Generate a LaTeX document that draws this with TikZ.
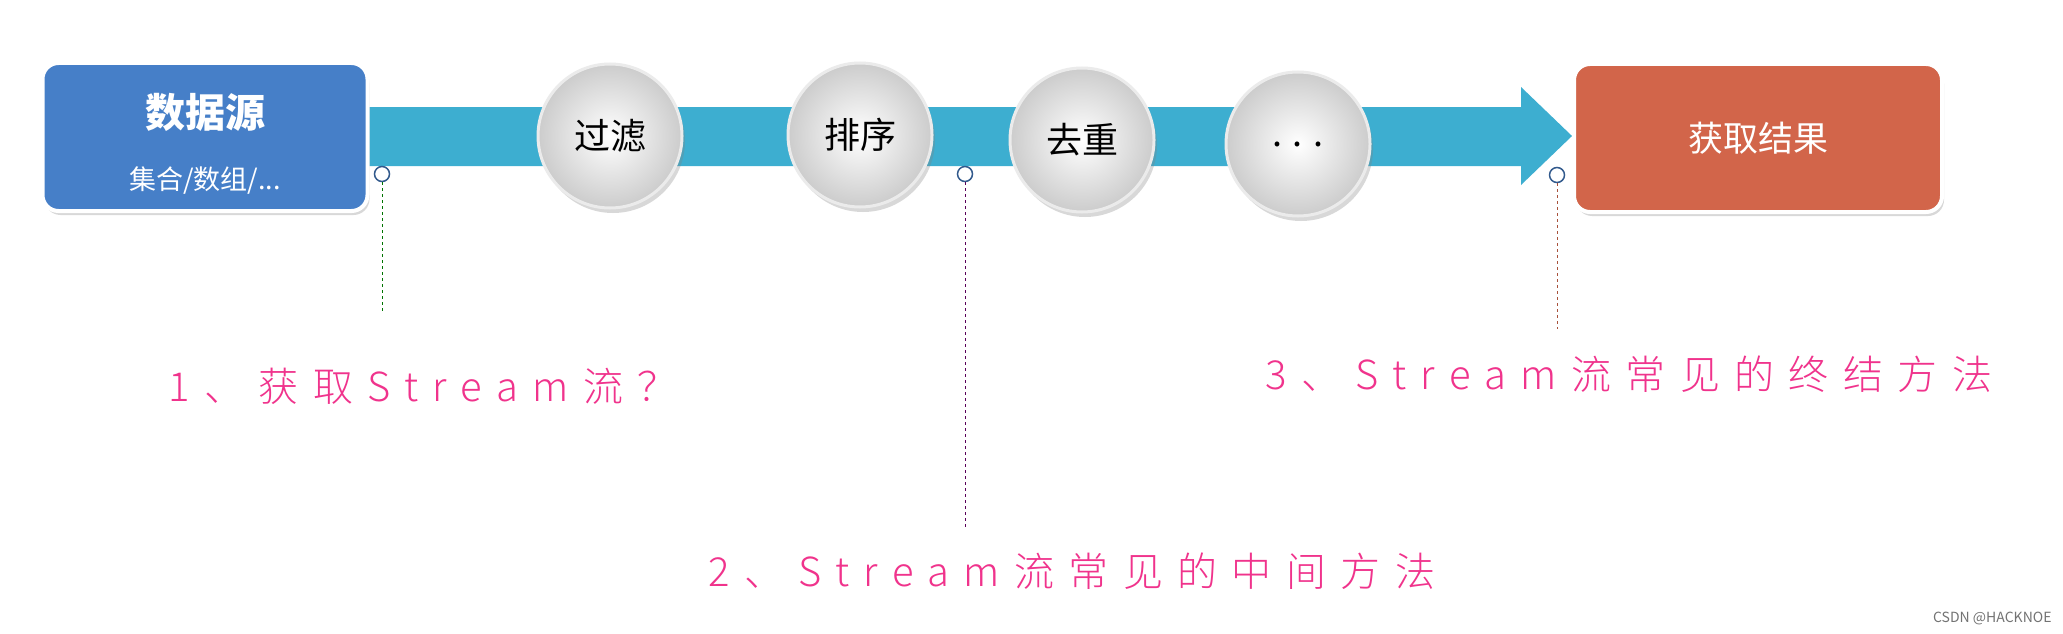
\documentclass[tikz,border=0pt]{standalone}
\usepackage{fontspec}
\setmainfont{Noto Sans CJK SC}
\newfontfamily\hand[LetterSpace=36]{Noto Sans CJK SC Light}
\usetikzlibrary{shadows}
\definecolor{bandc}{HTML}{3DAED0}
\definecolor{srcc}{HTML}{467FC8}
\definecolor{resc}{HTML}{D2654A}
\definecolor{pinkc}{HTML}{F0338C}
\begin{document}
\begin{tikzpicture}[x=1pt,y=-1pt,
  boxst/.style={draw=white,line width=4pt,rounded corners=16pt,drop shadow={shadow xshift=2pt,shadow yshift=-4pt,opacity=0.3},text=white,align=center},
  ball/.style={circle,minimum size=144pt,inner sep=0pt,draw=white!92!black,line width=3pt,inner color=white,outer color=black!20,drop shadow={shadow xshift=3pt,shadow yshift=-5pt,opacity=0.3},font=\fontsize{36}{42}\selectfont},
  dot/.style={circle,draw=srcc!70!black,fill=white,line width=1.5pt,minimum size=15pt,inner sep=0pt},
  lbl/.style={text=pinkc,font=\hand\fontsize{40}{46}\selectfont,anchor=west},
  dl/.style={dashed,line width=1pt}]
\useasboundingbox (0,0) rectangle (2063,634);
\fill[white] (0,0) rectangle (2063,634);
% band arrow
\fill[bandc] (365,107) -- (1521,107) -- (1521,87) -- (1572,136) -- (1521,185) -- (1521,166) -- (365,166) -- cycle;
\node[boxst,fill=srcc,minimum width=325pt,minimum height=148pt] (src) at (205,137) {};
\node[text=white,font=\bfseries\fontsize{40}{46}\selectfont] (srcA) at (205,112) {数据源};
\node[text=white,font=\fontsize{27}{30}\selectfont] (srcB) at (205,181) {集合/数组/...};
\node[boxst,fill=resc,minimum width=368pt,minimum height=148pt,font=\fontsize{35}{40}\selectfont] (res) at (1758,138) {获取结果};
\node[ball] (b1) at (610,136) {过滤};
\node[ball] (b2) at (860,135) {排序};
\node[ball] (b3) at (1082,140) {去重};
\node[ball] (b4) at (1298,144) {. . .};
\node[dot] (d1) at (382,174) {};
\node[dot] (d2) at (965,174) {};
\node[dot] (d3) at (1557,175) {};
\coordinate (e1) at (382,312);
\coordinate (e2) at (965,530);
\coordinate (e3) at (1557,329);
\draw[dl,draw=green!45!black] (d1) -- (e1);
\draw[dl,draw=violet!70!black] (d2) -- (e2);
\draw[dl,draw=resc!80!black] (d3) -- (e3);
\node[lbl] (l1) at (165,386) {1、获取Stream流？};
\node[lbl] (l2) at (705,571) {2、Stream流常见的中间方法};
\node[lbl] (l3) at (1262,374) {3、Stream流常见的终结方法};
\node[text=black!55,font=\fontsize{14}{16}\selectfont,anchor=east] (wm) at (2055,618) {CSDN @HACKNOE};
\end{tikzpicture}
\end{document}
